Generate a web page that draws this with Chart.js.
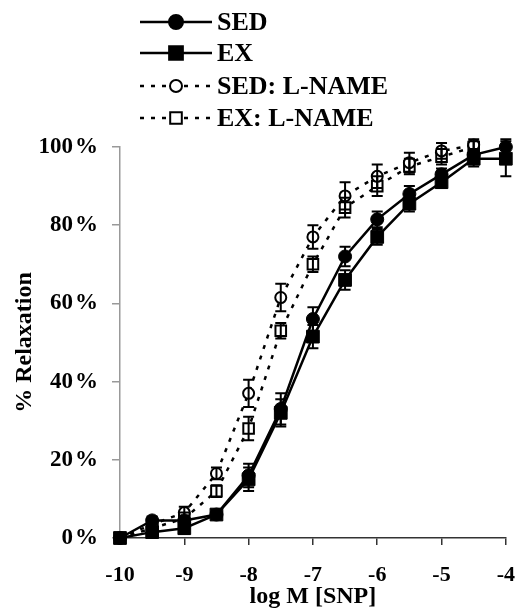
<!DOCTYPE html>
<html>
<head>
<meta charset="utf-8">
<script src="https://cdn.jsdelivr.net/npm/chart.js@4/dist/chart.umd.min.js"></script>
<style>
body { margin: 0; background: #fff; }
</style>
</head>
<body>
<canvas id="Chart" width="532" height="610"></canvas>
<script>
// log molar concentration of SNP
let logConc = [-10, -9.5, -9, -8.5, -8, -7.5, -7, -6.5, -6, -5.5, -5, -4.5, -4];

// % relaxation (mean)
let sed      = [0, 4.5, 4.5, 6, 16, 33, 56, 72, 81.5, 88, 93, 98, 100];
let ex       = [0, 1.5, 2.5, 6, 15, 32, 51.5, 66, 77, 85.5, 91, 97, 97];
let sedLname = [0, 3.5, 6.5, 16.5, 37, 61.5, 77, 87.5, 92.5, 96, 99, 100.5];
let exLname  = [0, 2.5, 5, 12, 28, 53, 70, 84.5, 90, 95, 97.5, 100];

// SEM
let sedErr      = [0, 1, 1, 1, 3, 4, 3, 2.5, 2, 2, 1.5, 1.5, 2];
let exErr       = [0, 1, 1.5, 1, 3, 3.5, 3, 2.5, 2, 2, 1.5, 2, 4.5];
let sedLnameErr = [0, 1, 1.5, 1.5, 3.5, 3.5, 3, 3.5, 3, 2.5, 2, 1.5];
let exLnameErr  = [0, 1, 1.5, 1.5, 3, 2, 2, 2.5, 2.5, 2, 2, 1.5];

let seriesNames = ['SED', 'EX', 'SED: L-NAME', 'EX: L-NAME'];
let yTicks = [0, 20, 40, 60, 80, 100];

const serif = "'Liberation Serif', 'Times New Roman', serif";

function pts(ys) {
    return ys.map((y, i) => ({ x: logConc[i], y: y }));
}

let errors = [sedErr, exErr, sedLnameErr, exLnameErr];

// error bars with caps
let errorBars = {
    id: 'errorBars',
    afterDatasetsDraw(chart) {
        let ctx = chart.ctx;
        let yScale = chart.scales.y;
        ctx.save();
        ctx.strokeStyle = '#000';
        ctx.lineWidth = 2;
        chart.data.datasets.forEach((ds, i) => {
            let meta = chart.getDatasetMeta(i);
            meta.data.forEach((p, j) => {
                let e = errors[i][j];
                if (!e) return;
                let v = ds.data[j].y;
                let top = yScale.getPixelForValue(v + e);
                let bot = yScale.getPixelForValue(v - e);
                ctx.beginPath();
                ctx.moveTo(p.x, top); ctx.lineTo(p.x, bot);
                ctx.moveTo(p.x - 5.5, top); ctx.lineTo(p.x + 5.5, top);
                ctx.moveTo(p.x - 5.5, bot); ctx.lineTo(p.x + 5.5, bot);
                ctx.stroke();
            });
        });
        ctx.restore();
    }
};

// stacked legend at top
let stackedLegend = {
    id: 'stackedLegend',
    afterDraw(chart) {
        let ctx = chart.ctx;
        let rows = [22, 53, 86, 118];
        ctx.save();
        chart.data.datasets.forEach((ds, i) => {
            let y = rows[i];
            ctx.strokeStyle = '#000';
            ctx.lineWidth = 2.5;
            ctx.setLineDash(ds.borderDash || []);
            ctx.beginPath();
            ctx.moveTo(140, y); ctx.lineTo(212, y);
            ctx.stroke();
            ctx.setLineDash([]);
            ctx.fillStyle = ds.pointBackgroundColor;
            ctx.lineWidth = 2;
            ctx.beginPath();
            if (ds.pointStyle === 'circle') {
                let r = ds.pointRadius + 0.5;
                ctx.arc(176, y, r, 0, Math.PI * 2);
            } else {
                let s = ds.pointRadius * Math.SQRT1_2 + 0.5;
                ctx.rect(176 - s, y - s, 2 * s, 2 * s);
            }
            ctx.fill();
            ctx.stroke();
            ctx.fillStyle = '#000';
            ctx.font = 'bold 26px ' + serif;
            ctx.textBaseline = 'middle';
            ctx.fillText(ds.label, 217, y + 1);
        });
        ctx.restore();
    }
};

function makeSet(label, ys, style, filled, radius, dash) {
    return {
        label: label,
        data: pts(ys),
        borderColor: '#000',
        borderWidth: 2.5,
        borderDash: dash,
        pointStyle: style,
        pointRadius: radius,
        pointBorderWidth: filled ? 1 : 2,
        pointBorderColor: '#000',
        pointBackgroundColor: filled ? '#000' : '#fff',
        tension: 0,
        clip: false
    };
}

let chartData = {
    type: 'line',
    data: {
        datasets: [
            makeSet(seriesNames[0], sed, 'circle', true, 6.5, []),
            makeSet(seriesNames[1], ex, 'rect', true, 9, []),
            makeSet(seriesNames[2], sedLname, 'circle', false, 5.5, [4, 7]),
            makeSet(seriesNames[3], exLname, 'rect', false, 7.5, [4, 7])
        ]
    },
    options: {
        responsive: false,
        animation: false,
        layout: { padding: { top: 147, right: 19, left: 0, bottom: 0 } },
        plugins: {
            legend: { display: false },
            tooltip: { enabled: false }
        },
        scales: {
            x: {
                type: 'linear',
                min: -10,
                max: -4,
                afterFit: s => { s.height = 72; },
                border: { display: true, color: '#333', width: 1.5 },
                grid: { drawOnChartArea: false, drawTicks: true, tickLength: 7, color: '#333', lineWidth: 1.5 },
                ticks: {
                    stepSize: 1,
                    padding: 17,
                    color: '#000',
                    font: { family: serif, weight: 'bold', size: 22 }
                },
                title: {
                    display: true,
                    text: 'log M [SNP]',
                    color: '#000',
                    padding: { top: 0, bottom: 1 },
                    font: { family: serif, weight: 'bold', size: 24, lineHeight: 1 }
                }
            },
            y: {
                min: 0,
                max: 100,
                afterFit: s => { s.width = 120; },
                afterBuildTicks: s => { s.ticks = yTicks.map(v => ({ value: v })); },
                border: { display: true, color: '#999', width: 1.5 },
                grid: { drawOnChartArea: false, drawTicks: true, tickLength: 8, color: '#999', lineWidth: 1.5 },
                ticks: {
                    padding: 14,
                    color: '#000',
                    font: { family: serif, weight: 'bold', size: 23 },
                    callback: v => v + '\u200A%'
                },
                title: {
                    display: true,
                    text: '% Relaxation',
                    color: '#000',
                    padding: { top: 13, bottom: 0 },
                    font: { family: serif, weight: 'bold', size: 24, lineHeight: 1 }
                }
            }
        }
    },
    plugins: [errorBars, stackedLegend]
};

let graph = document.getElementById('Chart');
let presentdata = new Chart(graph, chartData);
</script>
</body>
</html>
